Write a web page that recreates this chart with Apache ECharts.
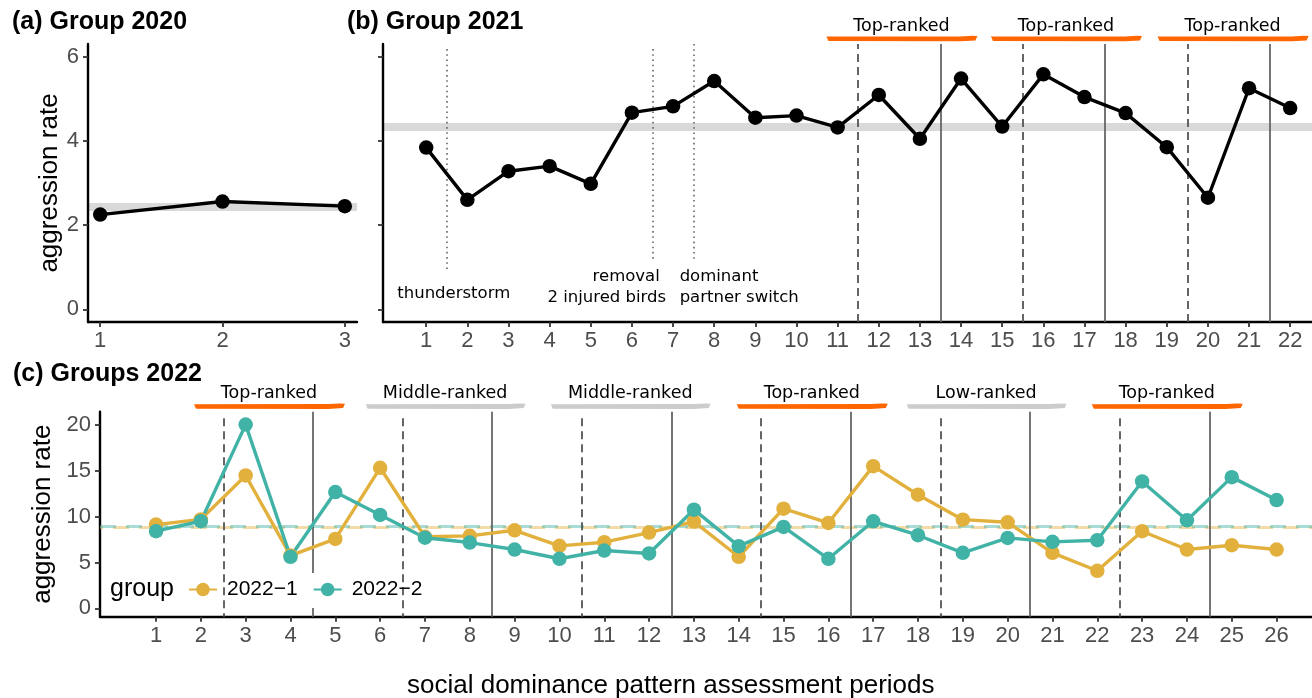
<!DOCTYPE html>
<html>
<head>
<meta charset="utf-8">
<script src="https://cdn.jsdelivr.net/npm/echarts@6/dist/echarts.min.js"></script>
<style>
html,body{margin:0;padding:0;background:#ffffff;}
#chart{width:1312px;height:698px;}
</style>
</head>
<body>
<div id="chart"></div>
<script>
// ---------------- data ----------------
const periodsA = [1, 2, 3];
const rateA = [2.25, 2.56, 2.45];
const meanA = 2.43;

const periodsB = [1, 2, 3, 4, 5, 6, 7, 8, 9, 10, 11, 12, 13, 14, 15, 16, 17, 18, 19, 20, 21, 22];
const rateB = [3.84, 2.60, 3.28, 3.40, 2.98, 4.67, 4.82, 5.42, 4.55, 4.60, 4.32, 5.09, 4.05, 5.48, 4.34, 5.58, 5.04, 4.66, 3.85, 2.65, 5.25, 4.78];
const meanB = 4.33;

const periodsC = [1, 2, 3, 4, 5, 6, 7, 8, 9, 10, 11, 12, 13, 14, 15, 16, 17, 18, 19, 20, 21, 22, 23, 24, 25, 26];
const groupNames = ['2022\u22121', '2022\u22122'];
const rateC1 = [9.13, 9.70, 14.49, 5.75, 7.57, 15.33, 7.80, 7.90, 8.51, 6.81, 7.21, 8.26, 9.46, 5.62, 10.87, 9.31, 15.51, 12.39, 9.67, 9.38, 6.05, 4.09, 8.41, 6.41, 6.88, 6.41];
const rateC2 = [8.41, 9.50, 20.04, 5.62, 12.68, 10.18, 7.70, 7.17, 6.41, 5.40, 6.30, 5.98, 10.76, 6.78, 8.88, 5.40, 9.49, 7.97, 6.05, 7.68, 7.25, 7.43, 13.84, 9.60, 14.31, 11.81];
const meanC1 = 8.80;
const meanC2 = 8.95;

// tick labels
const xTicksA = [1, 2, 3];
const xTicksB = [1, 2, 3, 4, 5, 6, 7, 8, 9, 10, 11, 12, 13, 14, 15, 16, 17, 18, 19, 20, 21, 22];
const xTicksC = [1, 2, 3, 4, 5, 6, 7, 8, 9, 10, 11, 12, 13, 14, 15, 16, 17, 18, 19, 20, 21, 22, 23, 24, 25, 26];
const yTicksAB = [0, 2, 4, 6];
const yTicksC = [0, 5, 10, 15, 20];

// period boundaries
const dashedB = [11.5, 15.5, 19.5];
const solidB = [13.5, 17.5, 21.5];
const dashedC = [2.5, 6.5, 10.5, 14.5, 18.5, 22.5];
const solidC = [4.5, 8.5, 12.5, 16.5, 20.5, 24.5];

// events in 2021
const eventLineX = [1.5, 6.5, 7.5];
const eventLineTop = [6.18, 6.18, 6.30];
const eventLineBottom = [0.89, 1.13, 1.12];
const eventLabels = ['thunderstorm', 'removal', '2 injured birds', 'dominant', 'partner switch'];
const eventLabelX = [1.67, 5.86, 5.39, 7.16, 7.16];
const eventLabelY = [0.38, 0.77, 0.28, 0.77, 0.28];
const eventAlign = ['center', 'center', 'center', 'left', 'left'];

// rank annotations
const rankLabelsB = ['Top-ranked', 'Top-ranked', 'Top-ranked'];
const rankCentersB = [12.55, 16.55, 20.6];
const rankLabelsC = ['Top-ranked', 'Middle-ranked', 'Middle-ranked', 'Top-ranked', 'Low-ranked', 'Top-ranked'];
const rankCentersC = [3.52, 7.45, 11.58, 15.63, 19.52, 23.55];

// ---------------- style ----------------
const FONT = '"Liberation Sans", Arial, Helvetica, sans-serif';
const ANNO_FONT = '"DejaVu Sans", Verdana, sans-serif';
const GOLD = '#E2B03C';
const TEAL = '#41B2A6';
const ORANGE = '#FF6600';
const GREYBAR = '#CCCCCC';
const LABEL_COL = '#4D4D4D';
const LINE_W = 3.4;
const SYM = 14.5;

const XA = {min: 0.9, max: 3.1};
const XB = {min: -0.05, max: 22.53};
const XC = {min: -0.25, max: 26.79};
const YAB = {min: -0.3, max: 6.3};
const YC = {min: -0.92, max: 21.45};

function grid(left, top, width, height) {
  return {left: left, top: top, width: width, height: height, containLabel: false, outerBoundsMode: 'none'};
}

function xAxisDef(gi, rng, ticks) {
  return {
    type: 'value', gridIndex: gi, min: rng.min, max: rng.max,
    axisLine: {show: true, onZero: false, lineStyle: {color: '#000', width: 2.4}},
    axisTick: {show: true, length: 5, customValues: ticks, lineStyle: {color: '#333', width: 1.8}},
    axisLabel: {show: true, customValues: ticks, margin: 8, color: LABEL_COL, fontSize: 22, fontFamily: FONT},
    splitLine: {show: false}
  };
}
function yAxisDef(gi, rng, ticks, showLabels, name, gap) {
  return {
    type: 'value', gridIndex: gi, min: rng.min, max: rng.max,
    name: name || '', nameLocation: 'middle', nameGap: gap || 0,
    nameTextStyle: {fontSize: 26, color: '#000', fontFamily: FONT},
    axisLine: {show: true, onZero: false, lineStyle: {color: '#000', width: 2.4}},
    axisTick: {show: true, length: 5, customValues: ticks, lineStyle: {color: '#333', width: 1.8}},
    axisLabel: {show: showLabels, customValues: ticks, margin: 9, color: LABEL_COL, fontSize: 22, fontFamily: FONT},
    splitLine: {show: false}
  };
}
function hiddenAxis(gi, rng) {
  return {type: 'value', gridIndex: gi, min: rng.min, max: rng.max, show: false,
    axisLine: {show: false}, axisTick: {show: false}, axisLabel: {show: false}, splitLine: {show: false}};
}

const dashedStyle = {type: [8, 5], color: '#555555', width: 1.8};
const solidStyle = {type: 'solid', color: '#666666', width: 1.8};
const dottedStyle = {type: [1.6, 3.6], color: '#666666', width: 1.6};

function markLineBase(items) {
  return {silent: true, symbol: 'none', animation: false, label: {show: false}, emphasis: {disabled: true}, z: 1, data: items};
}

function rankStrip(xi, yi, labels, centers) {
  return {
    type: 'custom', xAxisIndex: xi, yAxisIndex: yi, silent: true, z: 4,
    data: centers.map((c, i) => [c, i]),
    renderItem: function (params, api) {
      const idx = api.value(1);
      const label = labels[idx];
      const top = label.indexOf('Top') === 0;
      const cx = api.coord([api.value(0), 0])[0];
      const yBar = api.coord([0, 0.17])[1];
      const yLab = api.coord([0, 0.60])[1];
      const half = top ? 75 : 79.5;
      const x0 = cx - half, x1 = cx + half, t = 4.6;
      const pts = [
        [x0, yBar - t / 2], [x1 - 16, yBar - t / 2 - 0.2], [x1 - 4, yBar - t / 2 - 0.9],
        [x1 + 1, yBar - t / 2 - 0.6], [x1 - 1, yBar + t / 2 - 0.8], [x1 - 16, yBar + t / 2],
        [x0 + 2, yBar + t / 2 - 0.2]
      ];
      return {
        type: 'group',
        children: [
          {type: 'polygon', shape: {points: pts}, style: {fill: top ? ORANGE : GREYBAR}},
          {type: 'text', x: cx, y: yLab, style: {text: label, fontSize: 17.5, fontFamily: ANNO_FONT, fill: '#000', align: 'center', verticalAlign: 'middle'}}
        ]
      };
    }
  };
}

const option = {
  animation: false,
  backgroundColor: '#ffffff',
  textStyle: {fontFamily: FONT},
  title: [
    {text: '(a) Group 2020', left: 12, top: 10, padding: 0, textStyle: {fontFamily: FONT, fontSize: 25, fontWeight: 'bold', color: '#000'}},
    {text: '(b) Group 2021', left: 347, top: 10, padding: 0, textStyle: {fontFamily: FONT, fontSize: 25, fontWeight: 'bold', color: '#000'}},
    {text: '(c) Groups 2022', left: 13, top: 362, padding: 0, textStyle: {fontFamily: FONT, fontSize: 25, fontWeight: 'bold', color: '#000'}},
    {text: 'social dominance pattern assessment periods', left: 407, top: 673, padding: 0, textStyle: {fontFamily: FONT, fontSize: 26, fontWeight: 'normal', color: '#000'}},
    {text: 'group', left: 110, top: 577, padding: 0, textStyle: {fontFamily: FONT, fontSize: 25, fontWeight: 'normal', color: '#000'}}
  ],
  graphic: [
    {type: 'rect', left: 308, top: 573, z: 50, silent: true, shape: {width: 32, height: 35}, style: {fill: '#ffffff'}}
  ],
  legend: {
    data: groupNames, left: 188, top: 579, orient: 'horizontal', padding: 0, z: 60,
    itemWidth: 28, itemHeight: 17, itemGap: 15, selectedMode: false,
    textStyle: {fontSize: 21, color: '#000', fontFamily: FONT, padding: [0, 0, 0, 5]}
  },
  grid: [
    grid(88, 44, 269, 278),
    grid(383, 44, 929, 278),
    grid(100, 411.7, 1212, 205),
    grid(383, 14, 929, 30),
    grid(100, 381.7, 1212, 30)
  ],
  xAxis: [
    xAxisDef(0, XA, xTicksA),
    xAxisDef(1, XB, xTicksB),
    xAxisDef(2, XC, xTicksC),
    hiddenAxis(3, XB),
    hiddenAxis(4, XC)
  ],
  yAxis: [
    yAxisDef(0, YAB, yTicksAB, true, 'aggression rate', 21),
    yAxisDef(1, YAB, yTicksAB, false, '', 0),
    yAxisDef(2, YC, yTicksC, true, 'aggression rate', 35),
    hiddenAxis(3, {min: 0, max: 1}),
    hiddenAxis(4, {min: 0, max: 1})
  ],
  series: [
    // panel a references
    {type: 'line', xAxisIndex: 0, yAxisIndex: 0, data: [], z: 1, silent: true,
      markLine: markLineBase([{yAxis: meanA, lineStyle: {type: 'solid', color: 'rgba(0,0,0,0.15)', width: 8}}])},
    {type: 'line', name: 'A', xAxisIndex: 0, yAxisIndex: 0, z: 3, silent: true,
      data: periodsA.map((p, i) => [p, rateA[i]]),
      symbol: 'circle', symbolSize: SYM, showSymbol: true,
      lineStyle: {color: '#000', width: LINE_W}, itemStyle: {color: '#000'}},
    // panel b references
    {type: 'line', xAxisIndex: 1, yAxisIndex: 1, data: [], z: 1, silent: true,
      markLine: markLineBase(
        [{yAxis: meanB, lineStyle: {type: 'solid', color: 'rgba(0,0,0,0.15)', width: 8}}]
          .concat(dashedB.map(v => ({xAxis: v, lineStyle: dashedStyle})))
          .concat(solidB.map(v => ({xAxis: v, lineStyle: solidStyle})))
          .concat(eventLineX.map((v, i) => [{coord: [v, eventLineTop[i]], lineStyle: dottedStyle}, {coord: [v, eventLineBottom[i]]}]))
      )},
    {type: 'line', name: 'B', xAxisIndex: 1, yAxisIndex: 1, z: 3, silent: true,
      data: periodsB.map((p, i) => [p, rateB[i]]),
      symbol: 'circle', symbolSize: SYM, showSymbol: true,
      lineStyle: {color: '#000', width: LINE_W}, itemStyle: {color: '#000'}},
    {type: 'custom', xAxisIndex: 1, yAxisIndex: 1, silent: true, z: 4,
      data: eventLabels.map((t, i) => [eventLabelX[i], eventLabelY[i], i]),
      renderItem: function (params, api) {
        const p = api.coord([api.value(0), api.value(1)]);
        const i = api.value(2);
        return {type: 'text', x: p[0], y: p[1], style: {text: eventLabels[i], fontSize: 16.5, fontFamily: ANNO_FONT, fill: '#000', align: eventAlign[i], verticalAlign: 'middle'}};
      }},
    rankStrip(3, 3, rankLabelsB, rankCentersB),
    // panel c references
    {type: 'line', xAxisIndex: 2, yAxisIndex: 2, data: [], z: 1, silent: true,
      markLine: markLineBase(
        [{yAxis: meanC1, lineStyle: {type: [16, 10], dashOffset: 13, color: 'rgba(226,176,60,0.45)', width: 3}},
         {yAxis: meanC2, lineStyle: {type: [16, 10], dashOffset: 0, color: 'rgba(65,178,166,0.45)', width: 3}}]
          .concat(dashedC.map(v => [{coord: [v, 20.73], lineStyle: dashedStyle}, {coord: [v, YC.min]}]))
          .concat(solidC.map(v => ({xAxis: v, lineStyle: solidStyle})))
      )},
    {type: 'line', name: groupNames[0], xAxisIndex: 2, yAxisIndex: 2, z: 3, silent: true,
      data: periodsC.map((p, i) => [p, rateC1[i]]),
      symbol: 'circle', symbolSize: SYM, showSymbol: true,
      lineStyle: {color: GOLD, width: LINE_W}, itemStyle: {color: GOLD}},
    {type: 'line', name: groupNames[1], xAxisIndex: 2, yAxisIndex: 2, z: 3, silent: true,
      data: periodsC.map((p, i) => [p, rateC2[i]]),
      symbol: 'circle', symbolSize: SYM, showSymbol: true,
      lineStyle: {color: TEAL, width: LINE_W}, itemStyle: {color: TEAL}},
    rankStrip(4, 4, rankLabelsC, rankCentersC)
  ]
};

const chart = echarts.init(document.getElementById('chart'), null, {renderer: 'canvas', width: 1312, height: 698});
chart.setOption(option);
</script>
</body>
</html>
